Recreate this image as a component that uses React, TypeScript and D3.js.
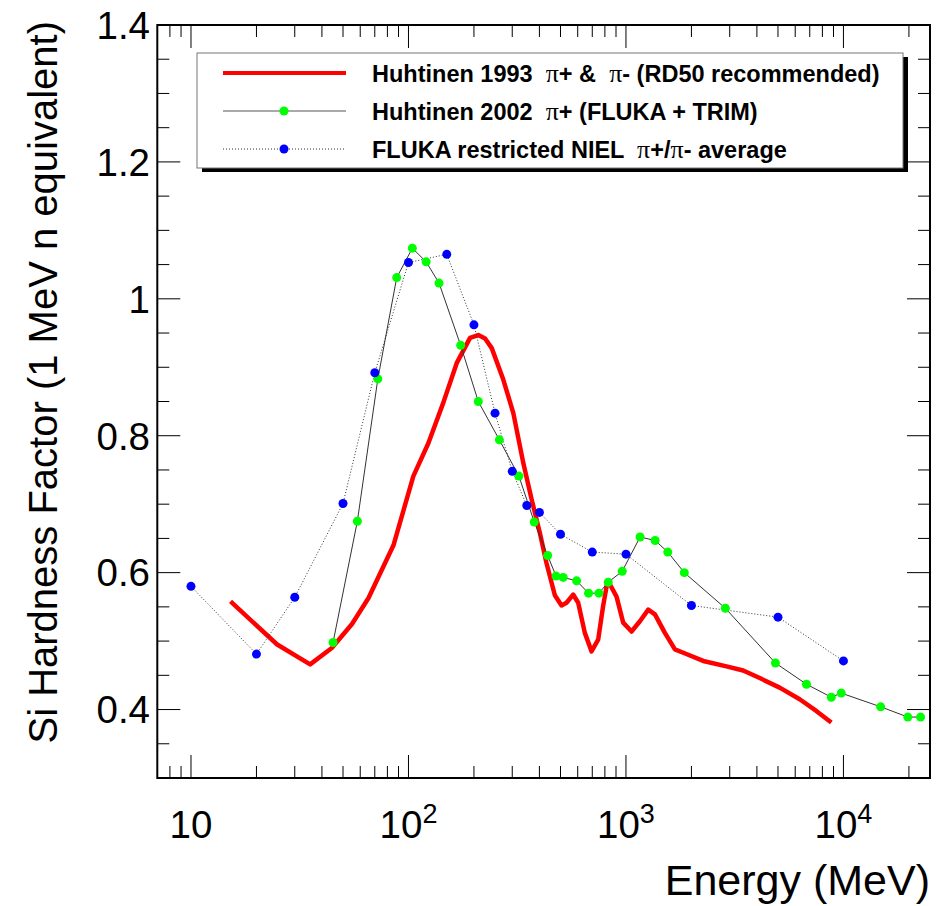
import React from "react";
import * as d3 from "d3";

// ---------- data ----------
const redE = [15.2, 24.9, 35.3, 44.4, 55, 65.5, 85.3, 105.3, 123.4, 144.5, 166.6, 191.9, 209.4, 225, 241.5, 272.8, 303.5, 337.3, 368.4, 402, 431, 471, 505.5, 533, 571.7, 603, 647, 694.6, 745, 785, 820, 843, 905, 971, 1061, 1159, 1266, 1359, 1510, 1679, 1834, 2266, 2899, 3458, 4122, 5091, 6291, 7500, 8793];
const redV = [0.558, 0.495, 0.466, 0.490, 0.525, 0.563, 0.640, 0.741, 0.789, 0.848, 0.906, 0.943, 0.947, 0.942, 0.928, 0.882, 0.833, 0.760, 0.707, 0.658, 0.614, 0.567, 0.552, 0.556, 0.568, 0.556, 0.512, 0.485, 0.502, 0.551, 0.585, 0.583, 0.565, 0.527, 0.514, 0.529, 0.546, 0.539, 0.512, 0.488, 0.483, 0.471, 0.463, 0.457, 0.446, 0.432, 0.415, 0.398, 0.381];

const greenE = [45, 58.2, 72.3, 88.3, 104.2, 120.6, 138.2, 173.8, 209.4, 261.7, 322, 378.6, 436.4, 476.8, 514.7, 593, 673, 751, 829, 961, 1161, 1362, 1557, 1855, 2864, 4866, 6761, 8795, 9770, 14830, 19770, 22630];
const greenV = [0.498, 0.675, 0.883, 1.031, 1.074, 1.054, 1.023, 0.932, 0.850, 0.794, 0.741, 0.674, 0.625, 0.595, 0.593, 0.588, 0.570, 0.570, 0.586, 0.602, 0.652, 0.647, 0.630, 0.600, 0.548, 0.468, 0.437, 0.418, 0.424, 0.404, 0.389, 0.389];

const blueE = [10, 20, 30, 50, 70, 100, 150, 200, 250, 300, 350, 400, 500, 700, 1000, 2000, 5000, 10000];
const blueV = [0.580, 0.481, 0.564, 0.701, 0.892, 1.053, 1.065, 0.962, 0.833, 0.748, 0.698, 0.688, 0.656, 0.630, 0.627, 0.552, 0.535, 0.471];

const yTickValues = [0.4, 0.6, 0.8, 1.0, 1.2, 1.4];
const yTickLabels = ["0.4", "0.6", "0.8", "1", "1.2", "1.4"];
const xTickValues = [10, 100, 1000, 10000];
const xTickBase = ["10", "10", "10", "10"];
const xTickExp = ["", "2", "3", "4"];

const legendLabels = [
  ["Huhtinen 1993  ", "π", "+ &  ", "π", "- (RD50 recommended)"],
  ["Huhtinen 2002  ", "π", "+ (FLUKA + TRIM)"],
  ["FLUKA restricted NIEL  ", "π", "+/", "π", "- average"],
];

const xTitle = "Energy (MeV)";
const yTitle = "Si Hardness Factor (1 MeV n equivalent)";

// ---------- layout ----------
const W = 949, H = 906;
const L = 157.3, R = 930, T = 25, B = 778;
const FONT = "'Liberation Sans', Arial, Helvetica, sans-serif";

export default function App() {
  const x = d3.scaleLog().domain([7, 25000]).range([L, R]);
  const y = d3.scaleLinear().domain([0.3, 1.4]).range([B, T]);

  const line = d3.line<[number, number]>().x(d => x(d[0])).y(d => y(d[1]));
  const red = redE.map((e, i) => [e, redV[i]] as [number, number]);
  const green = greenE.map((e, i) => [e, greenV[i]] as [number, number]);
  const blue = blueE.map((e, i) => [e, blueV[i]] as [number, number]);

  const xMinor: number[] = [];
  for (let dec = 1; dec <= 10000; dec *= 10) {
    for (let k = 2; k <= 9; k++) {
      const v = dec * k;
      if (v > 7 && v < 25000) xMinor.push(v);
    }
  }
  const yMinor = d3.range(0.35, 1.4, 0.05).filter(v => Math.abs(v / 0.2 - Math.round(v / 0.2)) > 1e-6);

  const major = 23, minor = 12;

  const lg = { x: 197, y: 53, w: 706, h: 115 };
  const rows = [73, 111, 149];

  return (
    <svg width={W} height={H} style={{ position: "fixed", left: 0, top: 0, background: "#fff" }} fontFamily={FONT}>
      <rect x={0} y={0} width={W} height={H} fill="#fff" />
      <g stroke="#000" strokeWidth={1}>
        {yTickValues.map((v, i) => (
          <g key={"yt" + i}>
            <line x1={L} x2={L + major} y1={y(v)} y2={y(v)} />
            <line x1={R - major} x2={R} y1={y(v)} y2={y(v)} />
          </g>
        ))}
        {yMinor.map((v, i) => (
          <g key={"ym" + i}>
            <line x1={L} x2={L + minor} y1={y(v)} y2={y(v)} />
            <line x1={R - minor} x2={R} y1={y(v)} y2={y(v)} />
          </g>
        ))}
        {xTickValues.map((v, i) => (
          <g key={"xt" + i}>
            <line x1={x(v)} x2={x(v)} y1={B} y2={B - major} />
            <line x1={x(v)} x2={x(v)} y1={T} y2={T + major} />
          </g>
        ))}
        {xMinor.map((v, i) => (
          <g key={"xm" + i}>
            <line x1={x(v)} x2={x(v)} y1={B} y2={B - minor} />
            <line x1={x(v)} x2={x(v)} y1={T} y2={T + minor} />
          </g>
        ))}
      </g>

      {/* data */}
      <path d={line(red) || ""} fill="none" stroke="#ff0000" strokeWidth={4.5} strokeLinejoin="round" />
      <path d={line(green) || ""} fill="none" stroke="#333" strokeWidth={1} />
      <path d={line(blue) || ""} fill="none" stroke="#333" strokeWidth={1} strokeDasharray="1,2" />
      {green.map((d, i) => <circle key={"g" + i} cx={x(d[0])} cy={y(d[1])} r={4.5} fill="#00ff00" />)}
      {blue.map((d, i) => <circle key={"b" + i} cx={x(d[0])} cy={y(d[1])} r={4.5} fill="#0000ff" />)}

      {/* frame */}
      <rect x={L} y={T} width={R - L} height={B - T} fill="none" stroke="#000" strokeWidth={2} />

      {yTickValues.map((v, i) => (
        <text key={"yl" + i} x={150} y={y(v)} dy="0.36em" textAnchor="end" fontSize={38.5}>{yTickLabels[i]}</text>
      ))}
      {xTickValues.map((v, i) => (
        <text key={"xl" + i} x={x(v)} y={838} textAnchor="middle" fontSize={38.5}>
          {xTickBase[i]}
          {xTickExp[i] && <tspan fontSize={27} dy={-15}>{xTickExp[i]}</tspan>}
        </text>
      ))}

      <text x={930} y={895} textAnchor="end" fontSize={43}>{xTitle}</text>
      <text transform={`translate(57,21) rotate(-90)`} textAnchor="end" fontSize={40}>{yTitle}</text>

      {/* legend */}
      <rect x={lg.x + 5} y={lg.y + 4} width={lg.w} height={lg.h} fill="#000" />
      <rect x={lg.x} y={lg.y} width={lg.w} height={lg.h} fill="#fff" stroke="#777" strokeWidth={1} />
      <line x1={223} x2={346} y1={rows[0]} y2={rows[0]} stroke="#ff0000" strokeWidth={4} />
      <line x1={223} x2={346} y1={rows[1]} y2={rows[1]} stroke="#555" strokeWidth={1} />
      <circle cx={284} cy={rows[1]} r={4.5} fill="#00ff00" />
      <line x1={223} x2={346} y1={rows[2]} y2={rows[2]} stroke="#333" strokeWidth={1} strokeDasharray="1,2" />
      <circle cx={284} cy={rows[2]} r={4.5} fill="#0000ff" />
      {legendLabels.map((parts, i) => (
        <text key={"lg" + i} x={372} y={rows[i] + 8.5} fontSize={23.5} fontWeight="bold" style={{ whiteSpace: "pre" }}>
          {parts.map((p, j) =>
            p === "π"
              ? <tspan key={j} fontFamily="'Liberation Serif', 'DejaVu Serif', serif" fontWeight="normal" fontSize={26}>{p}</tspan>
              : <tspan key={j}>{p}</tspan>
          )}
        </text>
      ))}
    </svg>
  );
}
